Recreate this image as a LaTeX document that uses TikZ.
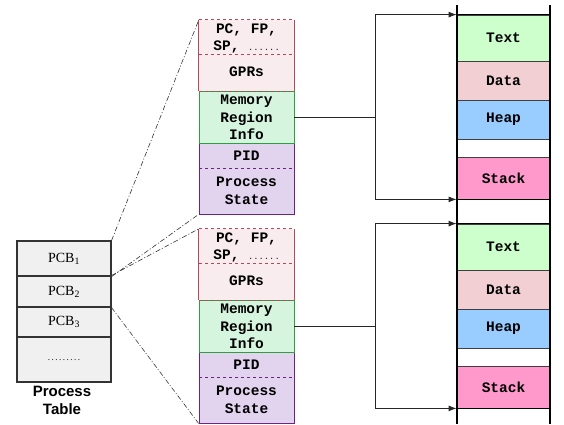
\documentclass[tikz,border=0pt]{standalone}
\usepackage{fontspec}
\setmainfont{Liberation Serif}
\setsansfont{Liberation Sans}
\setmonofont{Liberation Mono}
\usetikzlibrary{arrows.meta}
\definecolor{redB}{HTML}{B04A5E}
\definecolor{redF}{HTML}{F8ECEE}
\definecolor{grnB}{HTML}{2E9E3E}
\definecolor{grnF}{HTML}{D6F5DE}
\definecolor{purB}{HTML}{6E2380}
\definecolor{purF}{HTML}{E2D3EE}
\definecolor{txtF}{HTML}{CCFFCC}
\definecolor{datF}{HTML}{F2CFD3}
\definecolor{hepF}{HTML}{99CCFF}
\definecolor{stkF}{HTML}{FF99CC}
\tikzset{
  pcbtxt/.style={font=\ttfamily\bfseries\fontsize{14.5}{17.5}\selectfont, align=center, inner sep=0pt},
  sec/.style={minimum width=95pt, inner sep=0pt},
  seg/.style={draw=black!75, line width=0.8pt, minimum width=93pt, inner sep=0pt,
    font=\ttfamily\bfseries\fontsize{14.5}{17}\selectfont},
  ptrow/.style={draw=black!80, fill=black!6, line width=1.2pt, minimum width=94pt, inner sep=0pt,
    font=\fontsize{14}{16}\selectfont},
  zoomline/.style={black!80, line width=0.6pt, dash pattern=on 5pt off 2pt on 1pt off 2pt},
  conn/.style={black!85, line width=0.9pt},
  tip/.style={-{Latex[length=8pt,width=6pt]}},
}
\begin{document}
\begin{tikzpicture}[x=1pt,y=-1pt]
\useasboundingbox (0,0) rectangle (564,424);
% process table
\node[ptrow, minimum height=35pt] (pcb1) at (64,258.5) {PCB\textsubscript{1}};
\node[ptrow, minimum height=31pt] (pcb2) at (64,291.5) {PCB\textsubscript{2}};
\node[ptrow, minimum height=30pt] (pcb3) at (64,322) {PCB\textsubscript{3}};
\node[ptrow, minimum height=45pt] (pcbn) at (64,359.5) {\raisebox{-3pt}{\fontsize{9}{9}\selectfont .\,.\,.\,.\,.\,.\,.\,.\,.}};
\node[font=\sffamily\bfseries\fontsize{15}{18}\selectfont, align=center] (ptlabel) at (62,400) {Process\\Table};

\foreach \i/\dy in {1/0,2/209}{
  % PCB detail box
  \node[sec, fill=redF, minimum height=71pt] (reg\i) at (246.5,55.5+\dy) {};
  \draw[redB, line width=0.8pt] (reg\i.north west) -- (reg\i.south west) (reg\i.north east) -- (reg\i.south east);
  \draw[redB, line width=0.8pt, dashed] (reg\i.north west) -- (reg\i.north east);
  \draw[redB, line width=0.8pt, dashed] (199,54+\dy) -- (294,54+\dy);
  \node[sec, fill=purF, draw=purB, line width=0.8pt, minimum height=71pt] (pst\i) at (246.5,178.5+\dy) {};
  \draw[purB, line width=0.8pt, dashed] (199,168+\dy) -- (294,168+\dy);
  \node[sec, fill=grnF, draw=grnB, line width=0.8pt, minimum height=52pt] (mri\i) at (246.5,117+\dy) {};
  \draw[redB, line width=0.8pt, dashed] (reg\i.south west) -- (reg\i.south east);
  \node[pcbtxt] (pcfp\i) at (246.5,38.5+\dy) {PC, FP,\\SP, {\fontsize{8}{8}\selectfont\mdseries.\kern0.5pt.\kern0.5pt.\kern0.5pt.\kern0.5pt.\kern0.5pt.}};
  \node[pcbtxt] (gpr\i) at (246.5,72+\dy) {GPRs};
  \node[pcbtxt] (mrt\i) at (246.5,117.5+\dy) {Memory\\Region\\Info};
  \node[pcbtxt] (pid\i) at (246.5,156+\dy) {PID};
  \node[pcbtxt] (ps\i) at (246.5,191+\dy) {Process\\State};
  % memory layout
  \node[seg, fill=txtF, minimum height=46pt] (text\i) at (503.5,38+\dy) {Text};
  \node[seg, fill=datF, minimum height=39pt] (data\i) at (503.5,80.5+\dy) {Data};
  \node[seg, fill=hepF, minimum height=39pt] (heap\i) at (503.5,119.5+\dy) {Heap};
  \node[seg, fill=white, minimum height=18pt] (gap\i) at (503.5,148+\dy) {};
  \node[seg, fill=stkF, minimum height=42pt] (stack\i) at (503.5,178+\dy) {Stack};
  \draw[line width=1.2pt] (text\i.north west) -- (text\i.north east);
  \draw[line width=1.2pt] (stack\i.south west) -- (stack\i.south east);
  % connectors
  \coordinate (j\i) at (375,117+\dy);
  \draw[conn] (mri\i.east) -- (j\i);
  \draw[conn, tip] (j\i) |- (text\i.north west);
  \draw[conn, tip] (j\i) |- (stack\i.south west);
}
\draw[line width=2pt] (457,5) -- (457,424);
\draw[line width=2pt] (550,5) -- (550,424);
% zoom lines
\draw[zoomline] (pcb1.north east) -- (reg1.north west);
\draw[zoomline] (pcb1.south east) -- (pst1.south west);
\draw[zoomline] (pcb2.north east) -- (reg2.north west);
\draw[zoomline] (pcb2.south east) -- (pst2.south west);
\end{tikzpicture}
\end{document}
